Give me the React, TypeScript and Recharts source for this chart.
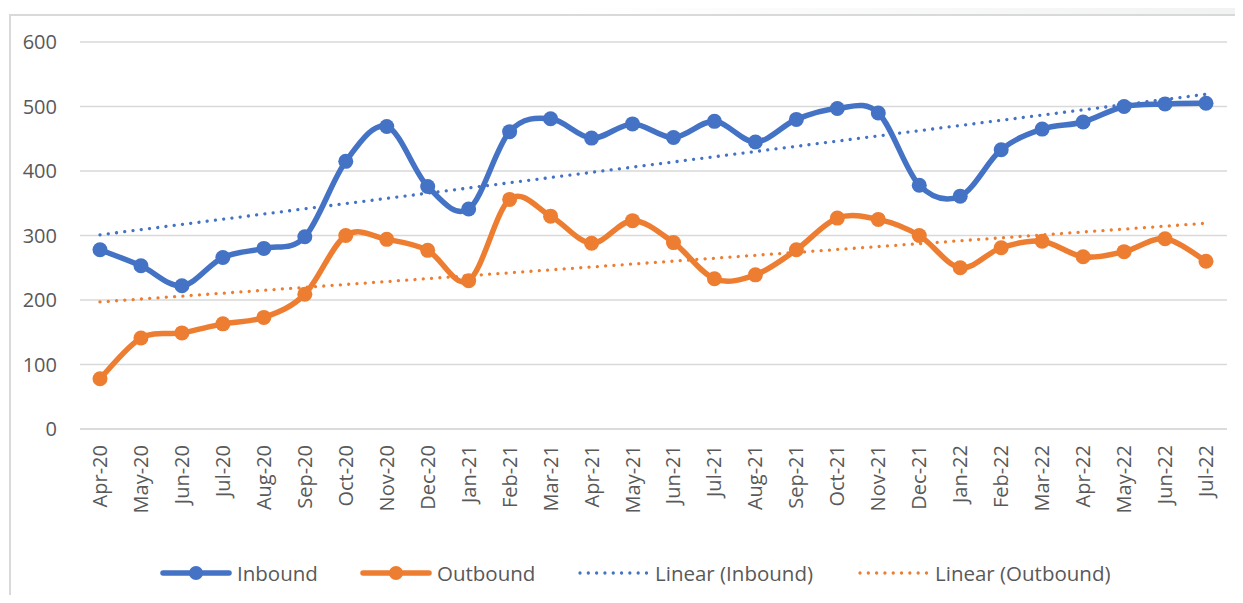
import { LineChart, Line, XAxis, YAxis, CartesianGrid } from 'recharts'

const months = [
  'Apr-20', 'May-20', 'Jun-20', 'Jul-20', 'Aug-20', 'Sep-20', 'Oct-20', 'Nov-20', 'Dec-20',
  'Jan-21', 'Feb-21', 'Mar-21', 'Apr-21', 'May-21', 'Jun-21', 'Jul-21', 'Aug-21', 'Sep-21',
  'Oct-21', 'Nov-21', 'Dec-21', 'Jan-22', 'Feb-22', 'Mar-22', 'Apr-22', 'May-22', 'Jun-22', 'Jul-22',
]
const inbound = [
  278, 253, 222, 266, 280, 298, 415, 469, 376, 341, 461, 481, 451, 473,
  452, 477, 445, 480, 497, 490, 378, 361, 433, 465, 476, 500, 504, 505,
]
const outbound = [
  78, 141, 149, 163, 173, 209, 300, 294, 277, 230, 356, 330, 288, 323,
  289, 233, 239, 278, 327, 325, 300, 250, 281, 291, 267, 275, 295, 260,
]
// trendline values read at the first and last month
const inboundTrend = [301, 519]
const outboundTrend = [197, 319]
const yTicks = [0, 100, 200, 300, 400, 500, 600]

const BLUE = '#4472C4'
const ORANGE = '#ED7D31'
const TEXT = '#595959'
const FONT = '"Open Sans", sans-serif'

const last = months.length - 1
const chartData = months.map((m, i) => ({
  month: m,
  inbound: inbound[i],
  outbound: outbound[i],
  inTrend: i === 0 ? inboundTrend[0] : i === last ? inboundTrend[1] : null,
  outTrend: i === 0 ? outboundTrend[0] : i === last ? outboundTrend[1] : null,
}))

// Excel-style smoothing (Catmull-Rom as cubic beziers)
function excelCurve(context: any) {
  let pts: number[][] = []
  return {
    areaStart() {},
    areaEnd() {},
    lineStart() {
      pts = []
    },
    point(x: number, y: number) {
      pts.push([+x, +y])
    },
    lineEnd() {
      const n = pts.length
      if (!n) return
      context.moveTo(pts[0][0], pts[0][1])
      for (let i = 0; i < n - 1; i++) {
        const p0 = pts[i - 1] || pts[i]
        const p1 = pts[i]
        const p2 = pts[i + 1]
        const p3 = pts[i + 2] || p2
        context.bezierCurveTo(
          p1[0] + (p2[0] - p0[0]) / 6,
          p1[1] + (p2[1] - p0[1]) / 6,
          p2[0] - (p3[0] - p1[0]) / 6,
          p2[1] - (p3[1] - p1[1]) / 6,
          p2[0],
          p2[1],
        )
      }
    },
  }
}

function MonthTick({ x, y, payload }: any) {
  return (
    <text
      x={0}
      y={0}
      transform={`translate(${x},${y + 8}) rotate(-90)`}
      textAnchor="end"
      dy="0.35em"
      fill={TEXT}
      fontSize={20}
      fontFamily={FONT}
    >
      {payload.value}
    </text>
  )
}

const legendItems = [
  { label: 'Inbound', color: BLUE, dotted: false, left: 160 },
  { label: 'Outbound', color: ORANGE, dotted: false, left: 360 },
  { label: 'Linear (Inbound)', color: BLUE, dotted: true, left: 578 },
  { label: 'Linear (Outbound)', color: ORANGE, dotted: true, left: 858 },
]

export default function App() {
  return (
    <div style={{ position: 'relative', width: 1243, height: 603, margin: -8, background: '#fff', overflow: 'hidden' }}>
      {/* faint header strip and chart frame */}
      <div
        style={{
          position: 'absolute', left: 0, top: 0, width: 1243, height: 14,
          background: 'linear-gradient(90deg, #ffffff 45%, #f1f2f2 100%)',
        }}
      />
      <div
        style={{
          position: 'absolute', left: 9, top: 14, width: 1250, height: 600,
          border: '2px solid #d9d9d9', boxSizing: 'border-box',
        }}
      />
      <div style={{ position: 'absolute', left: 0, top: 0 }}>
        <LineChart width={1243} height={603} data={chartData} margin={{ top: 42, right: 16, left: 20, bottom: 74 }}>
          <CartesianGrid horizontal vertical={false} stroke="#d9d9d9" strokeWidth={1.5} />
          <XAxis
            dataKey="month"
            interval={0}
            height={100}
            padding={{ left: 20, right: 21 }}
            tickLine={false}
            axisLine={{ stroke: '#d9d9d9', strokeWidth: 1.5 }}
            tick={<MonthTick />}
          />
          <YAxis
            domain={[0, 600]}
            ticks={yTicks}
            width={60}
            tickLine={false}
            axisLine={false}
            tickMargin={17}
            tick={{ fill: TEXT, fontSize: 20, fontFamily: FONT }}
          />
          <Line
            dataKey="inbound"
            type={excelCurve as any}
            stroke={BLUE}
            strokeWidth={5.5}
            dot={{ r: 7.5, fill: BLUE, stroke: BLUE, strokeWidth: 0 }}
            activeDot={false}
            isAnimationActive={false}
          />
          <Line
            dataKey="outbound"
            type={excelCurve as any}
            stroke={ORANGE}
            strokeWidth={5.5}
            dot={{ r: 7.5, fill: ORANGE, stroke: ORANGE, strokeWidth: 0 }}
            activeDot={false}
            isAnimationActive={false}
          />
          <Line
            dataKey="inTrend"
            type="linear"
            connectNulls
            stroke={BLUE}
            strokeWidth={3.3}
            strokeDasharray="0.01 8.3"
            strokeLinecap="round"
            dot={false}
            activeDot={false}
            isAnimationActive={false}
          />
          <Line
            dataKey="outTrend"
            type="linear"
            connectNulls
            stroke={ORANGE}
            strokeWidth={3.3}
            strokeDasharray="0.01 8.3"
            strokeLinecap="round"
            dot={false}
            activeDot={false}
            isAnimationActive={false}
          />
        </LineChart>
      </div>

      {/* Legend */}
      {legendItems.map((item) => (
        <div
          key={item.label}
          style={{
            position: 'absolute', left: item.left, top: 558, height: 30,
            display: 'flex', alignItems: 'center', gap: 5,
          }}
        >
          <svg width={72} height={16} aria-hidden="true">
            {item.dotted ? (
              <line x1={2} y1={8} x2={70} y2={8} stroke={item.color} strokeWidth={3.3}
                strokeDasharray="0.01 8.3" strokeLinecap="round" />
            ) : (
              <>
                <line x1={3} y1={8} x2={69} y2={8} stroke={item.color} strokeWidth={5.5} strokeLinecap="round" />
                <circle cx={36} cy={8} r={7} fill={item.color} />
              </>
            )}
          </svg>
          <span style={{ fontFamily: FONT, fontSize: 20.5, color: TEXT, whiteSpace: 'nowrap' }}>{item.label}</span>
        </div>
      ))}
    </div>
  )
}
